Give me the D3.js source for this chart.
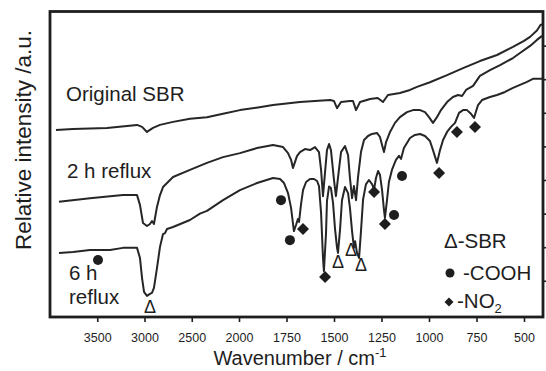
<!DOCTYPE html>
<html>
<head>
<meta charset="utf-8">
<style>
  body{margin:0;background:#fff;}
  svg{display:block;}
  text{font-family:"Liberation Sans", Arial, Helvetica, sans-serif;fill:#1e1e1e;}
</style>
</head>
<body>
<script src="https://d3js.org/d3.v7.min.js"></script>
<script>

// FTIR spectra, [wavenumber cm-1, relative intensity a.u.]
const original = [[3937,5.49],[3757,5.52],[3397,5.55],[3079,5.64],[3026,5.58],[2974,5.43],[2942,5.49],[2910,5.55],
  [2836,5.64],[2698,5.73],[2519,5.82],[2339,5.87],[2169,5.97],[1995,6.08],[1900,6.16],[1821,6.23],[1750,6.28],
  [1679,6.32],[1600,6.35],[1521,6.38],[1500,6.35],[1484,6.14],[1463,6.32],[1416,6.35],[1400,6.35],[1384,6.08],
  [1363,6.32],[1310,6.41],[1270,6.44],[1242,6.32],[1216,6.53],[1153,6.59],[1100,6.68],[1063,6.77],[995,6.91],
  [905,7.12],[821,7.33],[732,7.54],[642,7.72],[558,7.96],[500,8.14],[468,8.26],[432,8.45],[415,8.6],[405,8.64]]

const reflux2h = [[3905,3.35],[3577,3.46],[3228,3.55],[3079,3.55],[3048,3.26],[3016,2.72],[2974,2.63],[2942,2.69],
  [2921,2.78],[2900,2.69],[2868,3.20],[2836,3.55],[2804,3.79],[2698,4.09],[2519,4.30],[2339,4.51],[2169,4.68],
  [1995,4.80],[1905,4.95],[1821,5.04],[1768,4.98],[1742,4.80],[1726,4.60],[1716,4.36],[1705,4.54],[1695,4.71],
  [1679,4.83],[1653,4.92],[1626,4.89],[1600,4.98],[1579,4.83],[1568,4.30],[1558,3.52],[1547,4.24],[1537,4.89],
  [1526,5.07],[1516,4.89],[1500,4.00],[1490,3.52],[1479,4.06],[1463,4.83],[1442,5.01],[1426,4.74],[1416,4.06],
  [1405,3.46],[1395,3.82],[1384,3.40],[1374,4.06],[1358,4.83],[1342,5.19],[1321,5.31],[1300,5.37],[1274,5.40],
  [1258,5.28],[1247,5.04],[1237,4.83],[1226,5.13],[1205,5.43],[1179,5.70],[1153,5.87],[1116,6.02],[1084,6.08],
  [1047,6.08],[1021,6.02],[1000,5.87],[979,5.70],[958,5.87],[937,6.08],[905,6.32],[874,6.47],[847,6.53],
  [826,6.50],[805,6.68],[768,6.80],[732,7.10],[679,7.27],[626,7.42],[558,7.63],[521,7.78],[468,7.99],
  [432,8.17],[405,8.29]]

const reflux6h = [[3905,1.83],[3757,1.86],[3577,1.92],[3365,1.92],[3228,1.98],[3079,1.98],[3048,1.68],[3026,1.08],
  [3005,0.67],[2974,0.55],[2942,0.61],[2921,0.64],[2900,0.79],[2868,1.38],[2836,2.01],[2804,2.39],[2783,2.42],
  [2762,2.54],[2698,2.60],[2519,2.81],[2413,3.00],[2339,3.08],[2169,3.40],[1995,3.70],[1905,3.91],[1821,4.06],
  [1784,4.03],[1763,3.91],[1742,3.61],[1726,3.17],[1711,2.48],[1700,2.66],[1690,2.84],[1684,2.75],[1674,3.26],
  [1663,3.70],[1647,3.94],[1626,4.03],[1605,4.03],[1589,3.97],[1579,3.82],[1568,3.02],[1558,1.68],[1553,1.29],
  [1542,2.42],[1537,3.37],[1526,3.81],[1516,3.76],[1505,3.31],[1495,2.57],[1484,1.98],[1479,1.83],[1468,2.54],
  [1458,3.40],[1442,3.79],[1426,3.61],[1416,3.17],[1405,2.48],[1395,1.98],[1389,2.18],[1379,1.83],[1368,1.68],
  [1358,2.48],[1347,3.42],[1332,3.87],[1316,4.00],[1300,3.88],[1289,3.73],[1279,4.06],[1268,4.27],[1258,4.15],
  [1247,3.70],[1237,3.11],[1232,2.87],[1221,3.40],[1211,3.94],[1195,4.30],[1174,4.60],[1158,4.72],[1147,4.63],
  [1132,4.95],[1100,5.25],[1074,5.34],[1047,5.37],[1021,5.31],[995,5.16],[979,4.89],[963,4.60],[958,4.51],
  [942,4.89],[926,5.19],[905,5.43],[884,5.58],[863,5.70],[842,6.00],[821,6.08],[800,6.08],[779,5.97],[763,5.85],
  [742,6.23],[721,6.38],[679,6.47],[642,6.53],[600,6.62],[558,6.74],[521,6.83],[484,6.92],[453,7.01],[405,7.01]]

// band markers
const cooh = [[3492,1.62],[1779,3.40],[1732,2.21],[1184,2.96],[1142,4.12]]
const no2 = [[1663,2.54],[1547,1.11],[1289,3.64],[1232,2.69],[947,4.21],[853,5.43],[758,5.58]]
const sbr = [[2942,0.25],[1479,1.56],[1411,1.92],[1358,1.50]]

const xTicks = [3500,3000,2500,2000,1750,1500,1250,1000,750,500]
const yTicks = [1,2,3,4,5,6,7,8]

const width = 546, height = 371
const svg = d3.select('body').append('svg').attr('width',width).attr('height',height)

// wavenumber axis changes scale at 2000
const x = d3.scaleLinear().domain([4000,2000,400]).range([50,239,543])
const y = d3.scaleLinear().domain([0,9]).range([314.4,12])

const line = d3.line().x(d => x(d[0])).y(d => y(d[1]))

const ink = '#1e1e1e'

// traces
svg.append('g').selectAll('path').data([original, reflux2h, reflux6h]).enter().append('path')
  .attr('d', line)
  .attr('fill','none')
  .attr('stroke','#262626')
  .attr('stroke-width',2)
  .attr('stroke-linejoin','round')

// axes
let xa = svg.append('g').attr('transform','translate(0,317)')
  .call(d3.axisBottom(x).tickValues(xTicks).tickSize(5).tickPadding(11).tickFormat(d3.format('d')))
xa.select('.domain').remove()
xa.selectAll('line').attr('stroke',ink).attr('stroke-width',1.6)
xa.selectAll('text').style('font-size','12.5px').attr('fill',ink)

let ya = svg.append('g').attr('transform','translate(543,0)')
  .call(d3.axisRight(y).tickValues(yTicks).tickSize(4).tickFormat(''))
ya.select('.domain').remove()
ya.selectAll('line').attr('stroke',ink).attr('stroke-width',1.6)

// frame
svg.append('rect').attr('x',50).attr('y',11.5).attr('width',493).attr('height',305.5)
  .attr('fill','none').attr('stroke',ink).attr('stroke-width',2.8)

// markers
svg.append('g').selectAll('circle').data(cooh).enter().append('circle')
  .attr('cx', d => x(d[0])).attr('cy', d => y(d[1])).attr('r',5).attr('fill',ink)

const diamond = (cx, cy, r) => 'M'+cx+','+(cy-r)+'L'+(cx+r)+','+cy+'L'+cx+','+(cy+r)+'L'+(cx-r)+','+cy+'Z'

svg.append('g').selectAll('path').data(no2).enter().append('path')
  .attr('d', d => diamond(x(d[0]), y(d[1]), 6)).attr('fill',ink)

svg.append('g').selectAll('text').data(sbr).enter().append('text')
  .attr('x', d => x(d[0])).attr('y', d => y(d[1]) + 6.5)
  .attr('text-anchor','middle').style('font-size','18px').text('\u0394')

// trace labels
const label = (tx, ty, s) => svg.append('text').attr('x',tx).attr('y',ty).style('font-size','20.5px').text(s)
label(66,101,'Original SBR')
label(67,178,'2 h reflux')
label(69,280,'6 h')
label(69,304,'reflux')

// legend
label(444,248,'\u0394-SBR')
svg.append('circle').attr('cx',450).attr('cy',273).attr('r',4.5).attr('fill',ink)
label(463,280,'-COOH')
svg.append('path').attr('d',diamond(449,302,4.5)).attr('fill',ink)
let no = label(457,308,'-NO')
no.append('tspan').attr('dy',5).style('font-size','13px').text('2')

// axis titles
let xt = svg.append('text').attr('x',300).attr('y',365).attr('text-anchor','middle').style('font-size','20px')
  .text('Wavenumber / cm')
xt.append('tspan').attr('dy',-8).style('font-size','13px').text('-1')

svg.append('text').attr('transform','translate(31,140) rotate(-90)').attr('text-anchor','middle')
  .style('font-size','22.5px').text('Relative intensity /a.u.')

</script>
</body>
</html>
